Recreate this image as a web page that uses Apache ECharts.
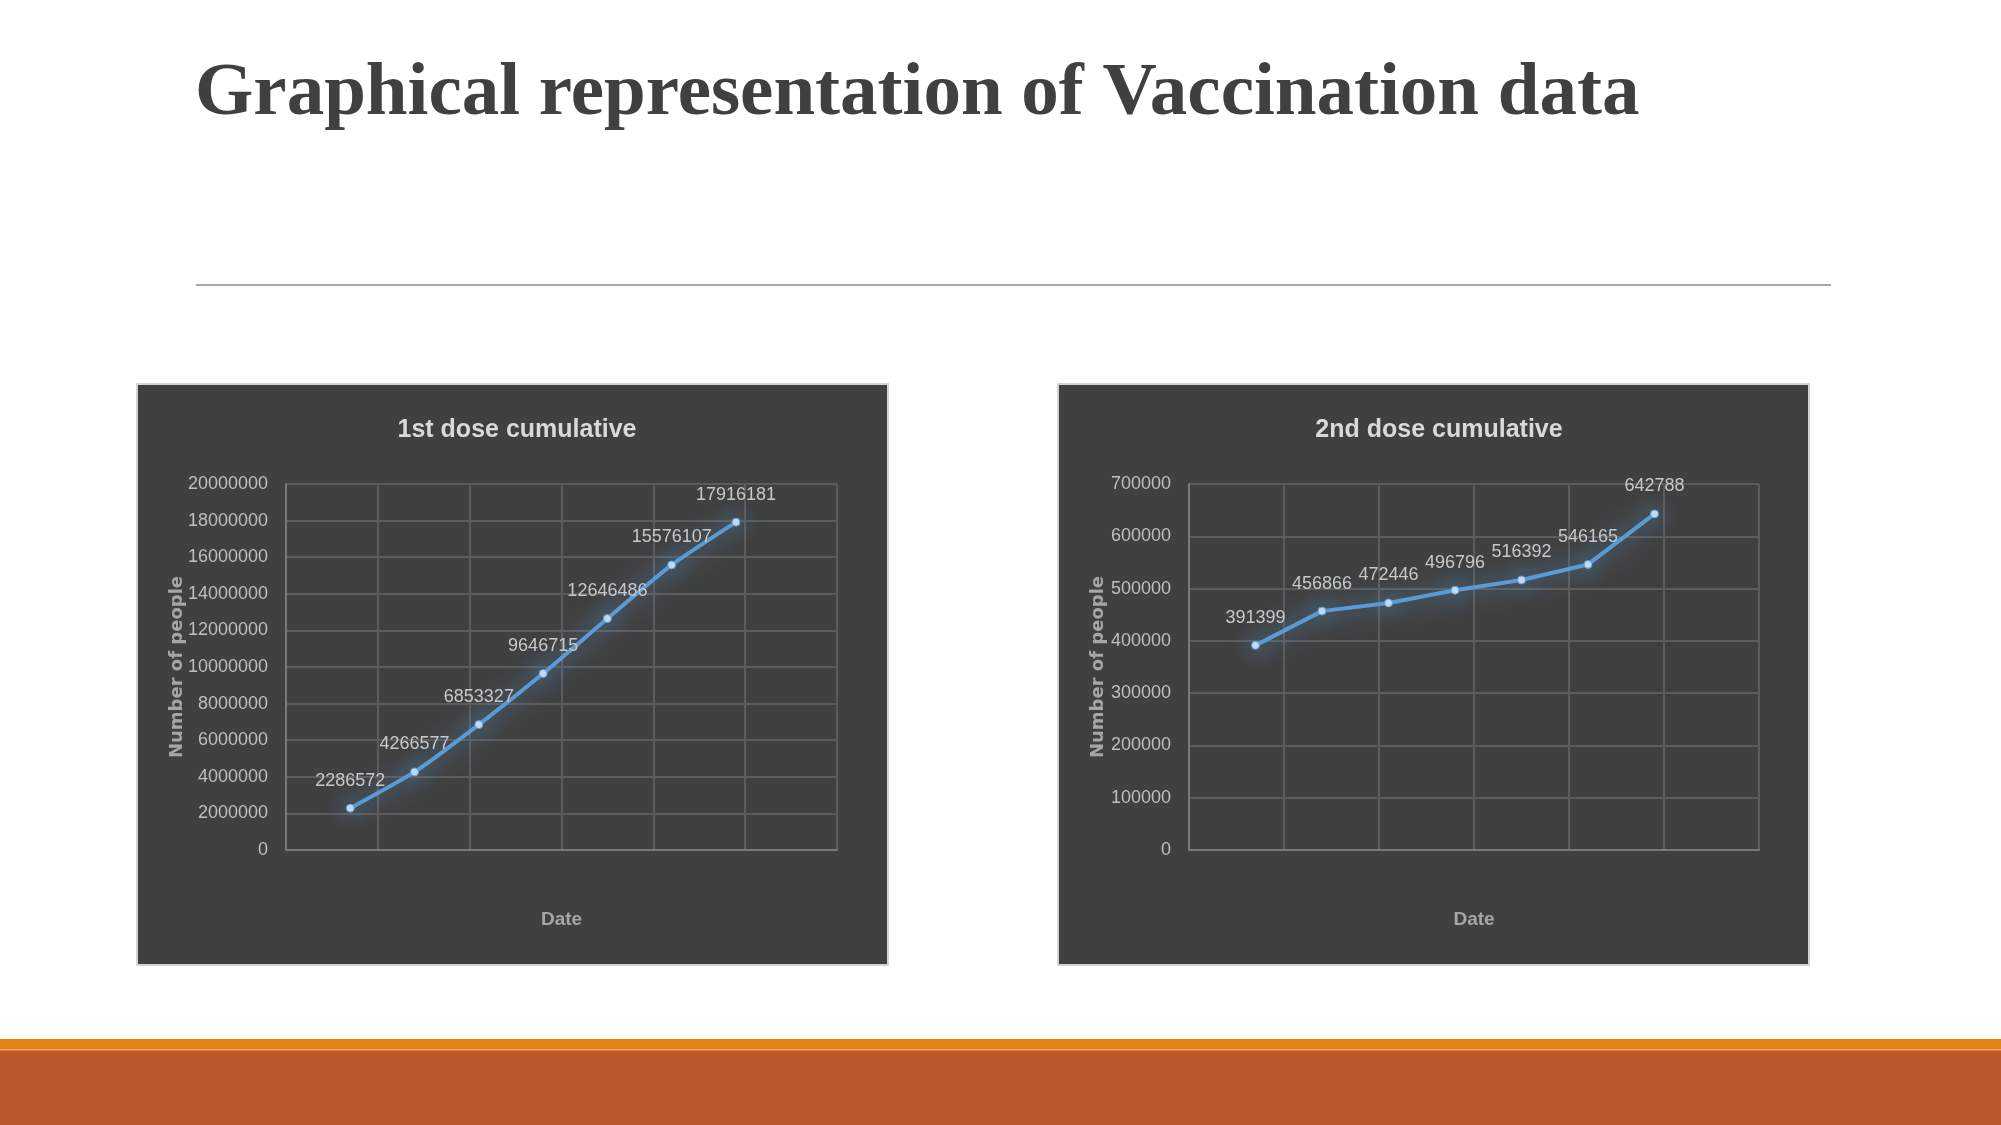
<!DOCTYPE html>
<html>
<head>
<meta charset="utf-8">
<script src="https://cdn.jsdelivr.net/npm/echarts@6/dist/echarts.min.js"></script>
<style>
html,body{margin:0;padding:0;background:#fff;}
#main{width:2001px;height:1125px;}
</style>
</head>
<body>
<div id="main"></div>
<script>
// ---- data ----
const pageTitle = 'Graphical representation of Vaccination data';
const chartTitles = ['1st dose cumulative', '2nd dose cumulative'];
const yAxisName = 'Number of people';
const xAxisName = 'Date';
// position of each reading on the (unlabelled) date axis, in days from axis start
const doseDays = [7, 14, 21, 28, 35, 42, 49];
const dose1Values = [2286572, 4266577, 6853327, 9646715, 12646486, 15576107, 17916181];
const dose2Values = [391399, 456866, 472446, 496796, 516392, 546165, 642788];
const dateAxisMax = 60, dateAxisStep = 10;
const y1Max = 20000000, y1Step = 2000000;
const y2Max = 700000, y2Step = 100000;

const NARROW = '"Liberation Sans Narrow","Liberation Sans",Arial,sans-serif';
const PANEL_BG = '#404040';
const GRID_LINE = '#5c5c5c';
const TEXT_LIGHT = '#bfbfbf';

const chart = echarts.init(document.getElementById('main'), null, {renderer: 'canvas'});

function xAxisCfg(gridIndex) {
  return {
    type: 'value', gridIndex, min: 0, max: dateAxisMax, interval: dateAxisStep,
    name: xAxisName, nameLocation: 'middle', nameGap: 60, nameMoveOverlap: false,
    nameTextStyle: {color: '#a6a6a6', fontFamily: NARROW, fontWeight: 'bold', fontSize: 19},
    axisLine: {show: true, lineStyle: {color: '#7a7a7a', width: 2}},
    axisTick: {show: false}, axisLabel: {show: false},
    splitLine: {show: true, lineStyle: {color: GRID_LINE, width: 2}}
  };
}
function yAxisCfg(gridIndex, max, step, gap) {
  return {
    type: 'value', gridIndex, min: 0, max: max, interval: step,
    name: yAxisName, nameLocation: 'middle', nameGap: gap, nameRotate: 90, nameMoveOverlap: false,
    nameTextStyle: {color: '#a6a6a6', fontFamily: '"DejaVu Sans",sans-serif', fontWeight: 'bold', fontSize: 18},
    axisLine: {show: true, lineStyle: {color: '#7a7a7a', width: 2}},
    axisTick: {show: false},
    axisLabel: {color: TEXT_LIGHT, fontFamily: NARROW, fontSize: 18, margin: 18,
                formatter: v => String(v)},
    splitLine: {show: true, lineStyle: {color: GRID_LINE, width: 2}}
  };
}
function seriesCfg(idx, values, smooth) {
  return {
    type: 'line', xAxisIndex: idx, yAxisIndex: idx, smooth: smooth,
    data: doseDays.map((d, i) => [d, values[i]]),
    symbol: 'circle', symbolSize: 8,
    itemStyle: {color: '#c5dcf2', borderColor: '#5b9bd5', borderWidth: 1, shadowColor: 'rgba(91,155,213,1)', shadowBlur: 22},
    lineStyle: {color: '#5b9bd5', width: 4, shadowColor: 'rgba(91,155,213,1)', shadowBlur: 24},
    label: {show: true, position: 'top', distance: 14, color: '#c8c8c8', fontFamily: NARROW, fontSize: 18,
            formatter: p => String(p.value[1])},
    z: 5
  };
}

const option = {
  animation: false,
  backgroundColor: '#ffffff',
  graphic: [
    // bottom bands
    {type: 'rect', shape: {x: 0, y: 1039, width: 2001, height: 11}, style: {fill: '#e38315'}, z: -10, silent: true},
    {type: 'rect', shape: {x: 0, y: 1049, width: 2001, height: 1.5}, style: {fill: '#f6a860'}, z: -9, silent: true},
    {type: 'rect', shape: {x: 0, y: 1050, width: 2001, height: 75}, style: {fill: '#bd582c'}, z: -10, silent: true},
    // rule under the title
    {type: 'line', shape: {x1: 196, y1: 285, x2: 1831, y2: 285}, style: {stroke: '#a8a8a8', lineWidth: 2}, z: -10, silent: true},
    // chart panels
    {type: 'rect', shape: {x: 137, y: 384, width: 751, height: 581}, style: {fill: PANEL_BG, stroke: '#d4d4d4', lineWidth: 2}, z: -10, silent: true},
    {type: 'rect', shape: {x: 1058, y: 384, width: 751, height: 581}, style: {fill: PANEL_BG, stroke: '#d4d4d4', lineWidth: 2}, z: -10, silent: true}
  ],
  title: [
    {text: pageTitle, left: 190, top: 52,
     textStyle: {fontFamily: '"Liberation Serif","Times New Roman",serif', fontWeight: 'bold', fontSize: 75, color: '#404040'}},
    {text: chartTitles[0], left: 512, top: 413, textAlign: 'center',
     textStyle: {fontFamily: NARROW, fontWeight: 'bold', fontSize: 25, color: '#d9d9d9'}},
    {text: chartTitles[1], left: 1434, top: 413, textAlign: 'center',
     textStyle: {fontFamily: NARROW, fontWeight: 'bold', fontSize: 25, color: '#d9d9d9'}}
  ],
  grid: [
    {left: 286, top: 484, width: 551, height: 366, containLabel: false},
    {left: 1189, top: 484, width: 570, height: 366, containLabel: false}
  ],
  xAxis: [xAxisCfg(0), xAxisCfg(1)],
  yAxis: [yAxisCfg(0, y1Max, y1Step, 100), yAxisCfg(1, y2Max, y2Step, 82)],
  series: [seriesCfg(0, dose1Values, 0.2), seriesCfg(1, dose2Values, false)]
};
chart.setOption(option);
</script>
</body>
</html>
